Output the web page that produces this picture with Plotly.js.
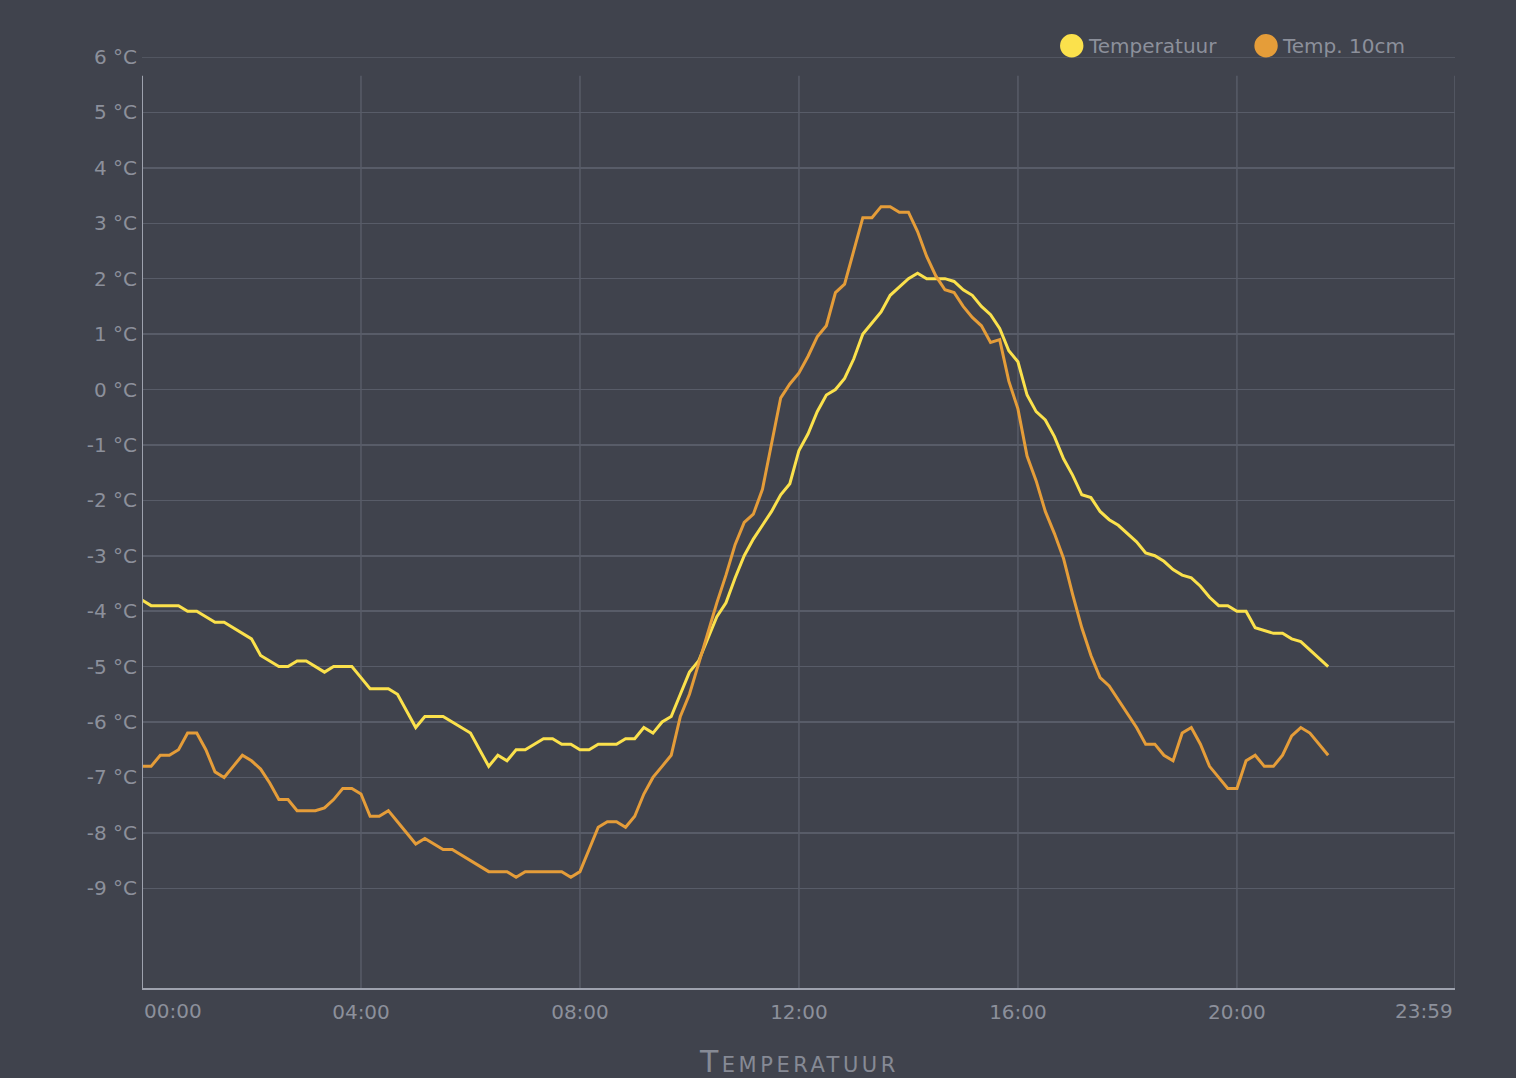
<!DOCTYPE html>
<html>
<head>
<meta charset="utf-8">
<script src="https://cdn.plot.ly/plotly-3.0.1.min.js"></script>
<style>
  html, body { margin: 0; padding: 0; background: #40434d; }
  #chart { width: 1516px; height: 1078px; }
</style>
</head>
<body>
<div id="chart"></div>
<script>
// readings every 10 minutes, 00:00 .. 21:40
var startMinute = 0;
var stepMinutes = 10;

var temperatuur = [
  -3.8, -3.9, -3.9, -3.9, -3.9, -4.0,
  -4.0, -4.1, -4.2, -4.2, -4.3, -4.4,
  -4.5, -4.8, -4.9, -5.0, -5.0, -4.9,
  -4.9, -5.0, -5.1, -5.0, -5.0, -5.0,
  -5.2, -5.4, -5.4, -5.4, -5.5, -5.8,
  -6.1, -5.9, -5.9, -5.9, -6.0, -6.1,
  -6.2, -6.5, -6.8, -6.6, -6.7, -6.5,
  -6.5, -6.4, -6.3, -6.3, -6.4, -6.4,
  -6.5, -6.5, -6.4, -6.4, -6.4, -6.3,
  -6.3, -6.1, -6.2, -6.0, -5.9, -5.5,
  -5.1, -4.9, -4.5, -4.1, -3.85, -3.4,
  -3.0, -2.7, -2.45, -2.2, -1.9, -1.7,
  -1.1, -0.8, -0.4, -0.1, 0.0, 0.2,
  0.55, 1.0, 1.2, 1.4, 1.7, 1.85,
  2.0, 2.1, 2.0, 2.0, 2.0, 1.95,
  1.8, 1.7, 1.5, 1.35, 1.1, 0.7,
  0.5, -0.1, -0.4, -0.55, -0.85, -1.25,
  -1.55, -1.9, -1.95, -2.2, -2.35, -2.45,
  -2.6, -2.75, -2.95, -3.0, -3.1, -3.25,
  -3.35, -3.4, -3.55, -3.75, -3.9, -3.9,
  -4.0, -4.0, -4.3, -4.35, -4.4, -4.4,
  -4.5, -4.55, -4.7, -4.85, -5.0
];

var temp10cm = [
  -6.8, -6.8, -6.6, -6.6, -6.5, -6.2,
  -6.2, -6.5, -6.9, -7.0, -6.8, -6.6,
  -6.7, -6.85, -7.1, -7.4, -7.4, -7.6,
  -7.6, -7.6, -7.55, -7.4, -7.2, -7.2,
  -7.3, -7.7, -7.7, -7.6, -7.8, -8.0,
  -8.2, -8.1, -8.2, -8.3, -8.3, -8.4,
  -8.5, -8.6, -8.7, -8.7, -8.7, -8.8,
  -8.7, -8.7, -8.7, -8.7, -8.7, -8.8,
  -8.7, -8.3, -7.9, -7.8, -7.8, -7.9,
  -7.7, -7.3, -7.0, -6.8, -6.6, -5.9,
  -5.5, -4.95, -4.4, -3.85, -3.35, -2.8,
  -2.4, -2.25, -1.8, -1.0, -0.15, 0.1,
  0.3, 0.6, 0.95, 1.15, 1.75, 1.9,
  2.5, 3.1, 3.1, 3.3, 3.3, 3.2,
  3.2, 2.85, 2.4, 2.05, 1.8, 1.75,
  1.5, 1.3, 1.15, 0.85, 0.9, 0.15,
  -0.35, -1.2, -1.65, -2.2, -2.6, -3.05,
  -3.7, -4.3, -4.8, -5.2, -5.35, -5.6,
  -5.85, -6.1, -6.4, -6.4, -6.6, -6.7,
  -6.2, -6.1, -6.4, -6.8, -7.0, -7.2,
  -7.2, -6.7, -6.6, -6.8, -6.8, -6.6,
  -6.25, -6.1, -6.2, -6.4, -6.6
];

var seriesNames = ["Temperatuur", "Temp. 10cm"];
var xTickMinutes = [240, 480, 720, 960, 1200];
var xTickLabels = ["04:00", "08:00", "12:00", "16:00", "20:00"];
var xEndLabels = ["00:00", "23:59"];
var yTickValues = [6, 5, 4, 3, 2, 1, 0, -1, -2, -3, -4, -5, -6, -7, -8, -9];

var minutes = [];
for (var i = 0; i < temperatuur.length; i++) {
  minutes.push(startMinute + i * stepMinutes);
}

var colors = ["#fbe14c", "#e59d39"];
var bg = "#40434d";
var gridColor = "#585c68";
var axisColor = "#9ea2ae";
var textColor = "#8c909b";
var yMin = -10.8;
var yMax = 6;
var gridTop = 5.66; // vertical lines stop a bit under the 6 °C line
var xMax = 1439;

var data = [
  {
    x: minutes, y: temperatuur, name: seriesNames[0],
    type: "scatter", mode: "lines",
    line: { color: colors[0], width: 3 },
    hoverinfo: "skip"
  },
  {
    x: minutes, y: temp10cm, name: seriesNames[1],
    type: "scatter", mode: "lines",
    line: { color: colors[1], width: 3 },
    hoverinfo: "skip"
  }
];

var shapes = [];
// top grid line sits on the plot edge, plotly skips it
shapes.push({
  type: "line", xref: "x", yref: "y", layer: "below",
  x0: 0, x1: xMax, y0: yMax, y1: yMax,
  line: { color: gridColor, width: 1.5 }
});
// vertical grid lines + right border
xTickMinutes.concat([xMax]).forEach(function (m) {
  shapes.push({
    type: "line", xref: "x", yref: "y", layer: "below",
    x0: m, x1: m, y0: yMin, y1: gridTop,
    line: { color: gridColor, width: 1.5 }
  });
});
// left axis line
shapes.push({
  type: "line", xref: "x", yref: "y", layer: "above",
  x0: 0, x1: 0, y0: yMin, y1: gridTop,
  line: { color: axisColor, width: 2 }
});

// legend dots
var legendX = [0.7081, 0.8561];
var legendTextX = [0.7189, 0.8667];
var legendY = 1.0121;
legendX.forEach(function (lx, k) {
  shapes.push({
    type: "circle", xref: "paper", yref: "paper",
    xsizemode: "pixel", ysizemode: "pixel",
    xanchor: lx, yanchor: legendY,
    x0: -11.7, x1: 11.7, y0: -11.7, y1: 11.7,
    fillcolor: colors[k], line: { width: 0 }
  });
});

var annotations = [];
seriesNames.forEach(function (n, k) {
  annotations.push({
    text: n, xref: "paper", yref: "paper",
    x: legendTextX[k], y: legendY, xanchor: "left", yanchor: "middle",
    showarrow: false,
    font: { family: "DejaVu Sans", size: 20, color: textColor }
  });
});
// first and last time labels sit inside the plot edges
annotations.push({
  text: xEndLabels[0], xref: "paper", yref: "paper",
  x: 0, y: 0, xanchor: "left", yanchor: "middle", yshift: -23,
  showarrow: false,
  font: { family: "DejaVu Sans", size: 20, color: textColor }
});
annotations.push({
  text: xEndLabels[1], xref: "paper", yref: "paper",
  x: 1, y: 0, xanchor: "right", yanchor: "middle", yshift: -23,
  showarrow: false,
  font: { family: "DejaVu Sans", size: 20, color: textColor }
});
// axis title in small caps
annotations.push({
  text: "<span style='font-variant:small-caps;letter-spacing:3.5px'>Temperatuur</span>",
  xref: "paper", yref: "paper",
  x: 0.5, y: 0, xanchor: "center", yanchor: "middle", yshift: -73,
  showarrow: false,
  font: { family: "DejaVu Sans", size: 30, color: "#868a95" }
});

var layout = {
  width: 1516,
  height: 1078,
  paper_bgcolor: bg,
  plot_bgcolor: bg,
  margin: { l: 142, r: 61, t: 57, b: 90 },
  showlegend: false,
  xaxis: {
    range: [0, xMax],
    tickvals: xTickMinutes,
    ticktext: xTickLabels,
    showgrid: false,
    zeroline: false,
    showline: true,
    linecolor: axisColor,
    linewidth: 2,
    ticks: "",
    ticklabelstandoff: 5,
    tickfont: { family: "DejaVu Sans", size: 20, color: textColor },
    fixedrange: true
  },
  yaxis: {
    range: [yMin, yMax],
    tickvals: yTickValues,
    ticktext: yTickValues.map(function (v) { return v + " °C"; }),
    showgrid: true,
    gridcolor: gridColor,
    gridwidth: 1.5,
    zeroline: false,
    showline: false,
    ticks: "",
    ticklabelstandoff: 4,
    tickfont: { family: "DejaVu Sans", size: 20, color: textColor },
    fixedrange: true
  },
  shapes: shapes,
  annotations: annotations
};

Plotly.newPlot("chart", data, layout, { displayModeBar: false, staticPlot: true });
</script>
</body>
</html>
